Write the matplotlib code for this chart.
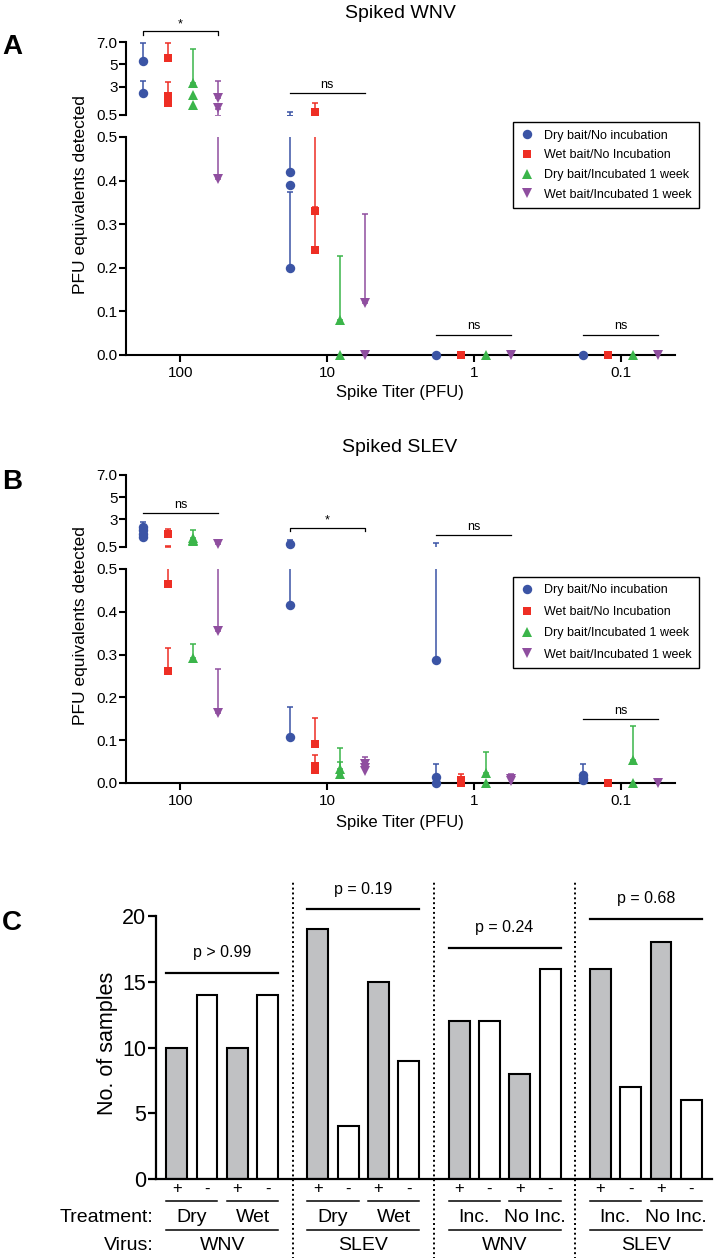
import matplotlib
matplotlib.use('Agg')
import matplotlib.pyplot as plt
from matplotlib.lines import Line2D

plt.rcParams['font.family'] = ['Liberation Sans', 'DejaVu Sans']

W, H = 714, 1258

# ---- data: spiked bait panels ----
titers = ['100', '10', '1', '0.1']
series_names = ['Dry bait/No incubation', 'Wet bait/No Incubation',
                'Dry bait/Incubated 1 week', 'Wet bait/Incubated 1 week']
colors = ['#3b54a5', '#ee2e24', '#3bb54a', '#8f4e9f']
markers = ['o', 's', '^', 'v']
msizes = [6.8, 6.4, 7.4, 7.4]

# WNV: values per titer and upper SD per point
wnv_dry_noinc = [[5.3, 2.45], [0.42, 0.39, 0.20], [0.0], [0.0]]
wnv_dry_noinc_sd = [[1.6, 1.05], [0.33, 0.0, 0.175], [0.0], [0.0]]
wnv_wet_noinc = [[5.55, 2.15, 1.6], [0.75, 0.33, 0.24], [0.0], [0.0]]
wnv_wet_noinc_sd = [[1.35, 1.3, 0.0], [0.8, 0.3, 0.1], [0.0], [0.0]]
wnv_dry_inc = [[3.35, 2.25, 1.4], [0.081, 0.0], [0.0], [0.0]]
wnv_dry_inc_sd = [[3.05, 0.0, 0.0], [0.147, 0.0], [0.0], [0.0]]
wnv_wet_inc = [[2.0, 1.1, 0.403], [0.12, 0.0], [0.0], [0.0]]
wnv_wet_inc_sd = [[1.5, 0.0, 0.6], [0.203, 0.0], [0.0], [0.0]]

# SLEV
slev_dry_noinc = [[2.3, 2.0, 1.7, 1.4], [0.8, 0.416, 0.107], [0.287, 0.015, 0.0], [0.018, 0.012, 0.008]]
slev_dry_noinc_sd = [[0.5, 0.0, 0.0, 0.0], [0.3, 0.2, 0.071], [0.6, 0.029, 0.0], [0.026, 0.0, 0.0]]
slev_wet_noinc = [[1.7, 0.465, 0.262], [0.091, 0.04, 0.03], [0.008, 0.0], [0.0]]
slev_wet_noinc_sd = [[0.4, 0.09, 0.053], [0.061, 0.025, 0.0], [0.012, 0.0], [0.0]]
slev_dry_inc = [[1.3, 1.1, 1.0, 0.292], [0.032, 0.022], [0.024, 0.0], [0.053, 0.0]]
slev_dry_inc_sd = [[0.7, 0.0, 0.0, 0.033], [0.05, 0.027], [0.049, 0.0], [0.08, 0.0]]
slev_wet_inc = [[0.75, 0.355, 0.164], [0.045, 0.035, 0.028], [0.01, 0.004], [0.0]]
slev_wet_inc_sd = [[0.0, 0.4, 0.102], [0.016, 0.012, 0.0], [0.01, 0.0], [0.0]]

# ---- data: panel C ----
counts_wnv_dry_wet = [10, 14, 10, 14]
counts_slev_dry_wet = [19, 4, 15, 9]
counts_wnv_inc = [12, 12, 8, 16]
counts_slev_inc = [16, 7, 18, 6]
p_values = ['p > 0.99', 'p = 0.19', 'p = 0.24', 'p = 0.68']
p_line_y = [15.7, 20.5, 17.6, 19.8]
treatments = [['Dry', 'Wet'], ['Dry', 'Wet'], ['Inc.', 'No Inc.'], ['Inc.', 'No Inc.']]
viruses = ['WNV', 'SLEV', 'WNV', 'SLEV']
signs = ['+', '-', '+', '-']


def box(x0, y0, x1, y1):
    return [x0 / W, 1 - y1 / H, (x1 - x0) / W, (y1 - y0) / H]


offsets = [-0.256, -0.085, 0.085, 0.256]
BREAK = 0.5


def draw_spiked(ax_top, ax_bot, vals, sds):
    for s in range(4):
        c = colors[s]
        for i in range(len(titers)):
            x = i + offsets[s]
            for v, sd in zip(vals[s][i], sds[s][i]):
                if sd > 0:
                    for ax in (ax_top, ax_bot):
                        ax.errorbar([x], [v], yerr=[[0], [sd]], fmt='none',
                                    ecolor=c, elinewidth=1.1, capsize=2.2,
                                    capthick=1.1, zorder=2)
                ax = ax_bot if v < BREAK else ax_top
                ax.plot([x], [v], marker=markers[s], color=c, ms=msizes[s],
                        linestyle='none', clip_on=False, zorder=3,
                        markeredgewidth=0)

    ax_top.set_ylim(0.5, 7.0)
    ax_top.set_yticks([0.5, 3, 5, 7])
    ax_top.set_yticklabels(['0.5', '3', '5', '7.0'])
    ax_bot.set_ylim(0, 0.5)
    ax_bot.set_yticks([0, 0.1, 0.2, 0.3, 0.4, 0.5])
    ax_bot.set_yticklabels(['0.0', '0.1', '0.2', '0.3', '0.4', '0.5'])
    for ax in (ax_top, ax_bot):
        ax.set_xlim(-0.371, 3.371)
        ax.spines['top'].set_visible(False)
        ax.spines['right'].set_visible(False)
        ax.spines['left'].set_linewidth(1.5)
        ax.spines['bottom'].set_linewidth(1.5)
        ax.tick_params(axis='y', length=5, width=1.5, labelsize=11, pad=1)
        ax.patch.set_visible(False)
    ax_top.spines['bottom'].set_visible(False)
    ax_top.set_xticks([])
    ax_bot.set_xticks(range(len(titers)))
    ax_bot.set_xticklabels(titers)
    ax_bot.tick_params(axis='x', length=5, width=1.5, labelsize=11, pad=3)


def sig(ax, i, y, text, ty, bracket=False, drop=0.0):
    x0 = i + offsets[0]
    x1 = i + offsets[3]
    if bracket:
        ax.plot([x0, x0, x1, x1], [y - drop, y, y, y - drop], color='black',
                lw=0.9, clip_on=False)
    else:
        ax.plot([x0, x1], [y, y], color='black', lw=0.9, clip_on=False)
    ax.text(i, ty, text, ha='center', va='center', fontsize=9, clip_on=False)


def add_legend(ax, handles, top_px, spacing):
    leg = ax.legend(handles, series_names, loc='upper left',
                    bbox_to_anchor=(513 / W, 1 - top_px / H),
                    bbox_transform=fig.transFigure, borderaxespad=0,
                    fancybox=False, edgecolor='black', framealpha=1,
                    fontsize=9, labelspacing=spacing, handlelength=1.0,
                    handletextpad=0.85, borderpad=0.6)
    leg.get_frame().set_linewidth(1.0)


fig = plt.figure(figsize=(W / 100, H / 100), dpi=100)

handles = [Line2D([], [], marker=markers[s], color=colors[s], linestyle='none',
                  ms=msizes[s], markeredgewidth=0) for s in range(4)]

# ---- Panel A ----
a_top = fig.add_axes(box(126, 42, 675, 115))
a_bot = fig.add_axes(box(126, 137, 675, 355))
draw_spiked(a_top, a_bot,
            [wnv_dry_noinc, wnv_wet_noinc, wnv_dry_inc, wnv_wet_inc],
            [wnv_dry_noinc_sd, wnv_wet_noinc_sd, wnv_dry_inc_sd, wnv_wet_inc_sd])
sig(a_top, 0, 7.98, '*', 8.6, bracket=True, drop=0.35)
sig(a_top, 1, 2.45, 'ns', 3.2)
sig(a_bot, 2, 0.046, 'ns', 0.066)
sig(a_bot, 3, 0.046, 'ns', 0.066)
add_legend(a_bot, handles, 122, 0.62)

fig.text(400 / W, 1 - 14 / H, 'Spiked WNV', ha='center', va='center', fontsize=14)
fig.text(400 / W, 1 - 392 / H, 'Spike Titer (PFU)', ha='center', va='center', fontsize=12)
fig.text(80 / W, 1 - 195 / H, 'PFU equivalents detected', rotation=90,
         ha='center', va='center', fontsize=12.5)
fig.text(12 / W, 1 - 47 / H, 'A', ha='center', va='center', fontsize=20, fontweight='bold')

# ---- Panel B ----
b_top = fig.add_axes(box(126, 475, 675, 547))
b_bot = fig.add_axes(box(126, 569, 675, 783))
draw_spiked(b_top, b_bot,
            [slev_dry_noinc, slev_wet_noinc, slev_dry_inc, slev_wet_inc],
            [slev_dry_noinc_sd, slev_wet_noinc_sd, slev_dry_inc_sd, slev_wet_inc_sd])
sig(b_top, 0, 3.57, 'ns', 4.3)
sig(b_top, 1, 2.23, '*', 2.86, bracket=True, drop=0.27)
sig(b_top, 2, 1.6, 'ns', 2.3)
sig(b_bot, 3, 0.15, 'ns', 0.169)
add_legend(b_bot, handles, 577, 0.75)

fig.text(400 / W, 1 - 448 / H, 'Spiked SLEV', ha='center', va='center', fontsize=14)
fig.text(400 / W, 1 - 822 / H, 'Spike Titer (PFU)', ha='center', va='center', fontsize=12)
fig.text(80 / W, 1 - 626 / H, 'PFU equivalents detected', rotation=90,
         ha='center', va='center', fontsize=12.5)
fig.text(12 / W, 1 - 482 / H, 'B', ha='center', va='center', fontsize=20, fontweight='bold')

# ---- Panel C ----
ax = fig.add_axes(box(156, 916, 712, 1179))
groups = [counts_wnv_dry_wet, counts_slev_dry_wet, counts_wnv_inc, counts_slev_inc]
step = 4.65
bw = 0.69
for g, counts in enumerate(groups):
    base = g * step
    xs = [base + k for k in range(4)]
    ax.bar(xs, counts, width=bw, color=['#c0c1c3', 'white', '#c0c1c3', 'white'],
           edgecolor='black', linewidth=1.5, zorder=2)
    # p-value line
    ax.plot([xs[0] - bw / 2, xs[3] + bw / 2], [p_line_y[g]] * 2, color='black',
            lw=1.6, clip_on=False)
    ax.text((xs[0] + xs[3]) / 2, p_line_y[g] + 1.55, p_values[g], ha='center',
            va='center', fontsize=11.5, clip_on=False)
    # +/- labels and group labels below the axis
    for k in range(4):
        ax.text(xs[k], -0.75, signs[k], ha='center', va='center', fontsize=12,
                clip_on=False)
    for p in range(2):
        xa, xb = xs[2 * p] - bw / 2, xs[2 * p + 1] + bw / 2
        ax.plot([xa, xb], [-1.67, -1.67], color='black', lw=1.1, clip_on=False)
        ax.text((xs[2 * p] + xs[2 * p + 1]) / 2, -2.95, treatments[g][p],
                ha='center', va='center', fontsize=14, clip_on=False)
    ax.plot([xs[0] - bw / 2, xs[3] + bw / 2], [-3.88, -3.88], color='black',
            lw=1.1, clip_on=False)
    ax.text((xs[0] + xs[3]) / 2, -5.05, viruses[g], ha='center', va='center',
            fontsize=14, clip_on=False)
    if g > 0:
        xd = base - (step - 3) / 2
        ax.plot([xd, xd], [-6.1, 22.7], color='black', lw=1.4, linestyle=(0, (1, 1.5)),
                clip_on=False)

ax.set_xlim(-0.68, 3 * step + 3 + 0.68)
ax.set_ylim(0, 20)
ax.set_yticks([0, 5, 10, 15, 20])
ax.set_xticks([])
ax.spines['top'].set_visible(False)
ax.spines['right'].set_visible(False)
ax.spines['left'].set_linewidth(1.6)
ax.spines['bottom'].set_linewidth(1.6)
ax.tick_params(axis='y', length=6, width=1.6, labelsize=15.5, pad=1)

ax.text(-0.75, -2.95, 'Treatment:', ha='right', va='center', fontsize=14, clip_on=False)
ax.text(-0.75, -5.05, 'Virus:', ha='right', va='center', fontsize=14, clip_on=False)
fig.text(107 / W, 1 - 1043 / H, 'No. of samples', rotation=90, ha='center',
         va='center', fontsize=15.5)
fig.text(12 / W, 1 - 923 / H, 'C', ha='center', va='center', fontsize=20, fontweight='bold')

fig.savefig('out.png', dpi=100)
